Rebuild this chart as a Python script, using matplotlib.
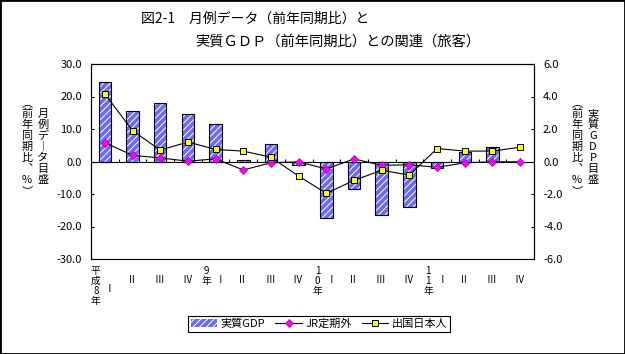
import numpy as np
import matplotlib
matplotlib.use('Agg')
import matplotlib.pyplot as plt
from matplotlib.patches import Patch, Rectangle
from matplotlib.lines import Line2D
from matplotlib.ticker import FormatStrFormatter

plt.rcParams['font.family'] = ['Noto Sans CJK JP', 'DejaVu Sans']
plt.rcParams['axes.unicode_minus'] = False
plt.rcParams['hatch.linewidth'] = 0.7

# data (quarters, H8 I .. H11 IV)
quarters = ['Ⅰ', 'Ⅱ', 'Ⅲ', 'Ⅳ'] * 4
year_labels = {0: '平成8年', 4: '9年', 8: '10年', 12: '11年'}
gdp = [4.9, 3.1, 3.6, 2.95, 2.3, 0.1, 1.05, -0.2,
       -3.5, -1.7, -3.3, -2.8, -0.4, 0.6, 0.9, np.nan]
jr = [5.8, 1.9, 1.1, 0.1, 0.8, -2.6, -0.4, -0.1,
      -2.3, 0.8, -1.2, -1.0, -1.8, -0.4, -0.1, -0.1]
shukkoku = [20.8, 9.5, 3.5, 6.0, 3.7, 3.2, 1.3, -4.5,
            -9.8, -5.8, -2.7, -4.2, 4.0, 3.2, 3.2, 4.4]
series_names = ['実質GDP', 'JR定期外', '出国日本人']

title1 = '図2-1　月例データ（前年同期比）と'
title2 = '実質ＧＤＰ（前年同期比）との関連（旅客）'
left_lab = [['︵', '前', '年', '同', '期', '比', '︑', '%', '︶'],
            ['月', '例', 'デ', '︱', 'タ', '目', '盛']]
right_lab = [['︵', '前', '年', '同', '期', '比', '︑', '%', '︶'],
             ['実', '質', 'G', 'D', 'P', '目', '盛']]

W, H = 625, 354
bar_blue = '#6B6BF5'
hatch = '/////'

fig = plt.figure(figsize=(W / 100, H / 100), dpi=100)
ax = fig.add_axes([91 / W, 1 - 259 / H, (534 - 91) / W, (259 - 64) / H])
ax2 = ax.twinx()
ax.yaxis.tick_right()
ax2.yaxis.tick_left()

x = np.arange(len(gdp))
ax.bar(x, gdp, width=0.45, color=bar_blue, edgecolor='white', hatch=hatch, linewidth=0)
ax.bar(x, gdp, width=0.45, facecolor='none', edgecolor='black', linewidth=0.8)
ax.set_xlim(-0.5, len(gdp) - 0.5)
ax.set_ylim(-6, 6)
ax.set_yticks(np.arange(-6, 7, 2))
ax.yaxis.set_major_formatter(FormatStrFormatter('%.1f'))
ax.spines['bottom'].set_position(('data', 0))
ax.set_xticks(np.arange(0.5, len(gdp) - 1, 1))
ax.tick_params(axis='x', direction='in', length=2.5, width=0.8, labelbottom=False)
ax.tick_params(axis='y', direction='in', length=2.5, width=0.8, pad=6.5, labelsize=8)

ax2.plot(x, jr, color='black', lw=0.8, marker='D', ms=4.2,
         mfc='#FF00FF', mec='#A000A0', mew=0.5)
ax2.plot(x, shukkoku, color='black', lw=0.8, marker='s', ms=5,
         mfc='#FFFF00', mec='black', mew=0.7)
ax2.set_ylim(-30, 30)
ax2.set_yticks(np.arange(-30, 31, 10))
ax2.yaxis.set_major_formatter(FormatStrFormatter('%.1f'))
ax2.tick_params(axis='y', direction='in', length=2.5, width=0.8, pad=6.5, labelsize=8)
for a in (ax, ax2):
    for s in a.spines.values():
        s.set_linewidth(0.8)

# category labels under the frame
xt = ax.get_xaxis_transform()
for i, q in enumerate(quarters):
    if i in year_labels:
        dy = 30 if i == 0 else 21
        ax.annotate(q, xy=(i, 0), xycoords=xt, xytext=(5, -dy), textcoords='offset pixels',
                    ha='center', va='center', fontsize=7, annotation_clip=False)
        for k, c in enumerate(year_labels[i]):
            ax.annotate(c, xy=(i, 0), xycoords=xt, xytext=(-9, -12 - 10 * k),
                        textcoords='offset pixels', ha='center', va='center',
                        fontsize=7, annotation_clip=False)
    else:
        ax.annotate(q, xy=(i, 0), xycoords=xt, xytext=(-1, -21), textcoords='offset pixels',
                    ha='center', va='center', fontsize=7, annotation_clip=False)


def stack(xpx, ypx, chars, pitch=11):
    for k, c in enumerate(chars):
        fig.text(xpx / W, 1 - (ypx + k * pitch) / H, c, ha='center', va='center', fontsize=8)


stack(27, 103, left_lab[0])
stack(43, 114, left_lab[1])
stack(577, 103, right_lab[0])
stack(593, 114, right_lab[1])

fig.text(141 / W, 1 - 19 / H, title1, fontsize=10, ha='left', va='center')
fig.text(195 / W, 1 - 42 / H, title2, fontsize=10.3, ha='left', va='center')

handles = [Patch(facecolor=bar_blue, edgecolor='white', hatch=hatch, lw=0),
           Line2D([], [], color='black', lw=0.8, marker='D', ms=4.2, mfc='#FF00FF', mec='#A000A0', mew=0.5),
           Line2D([], [], color='black', lw=0.8, marker='s', ms=5, mfc='#FFFF00', mec='black', mew=0.7)]
leg = fig.legend(handles, series_names, loc='center', bbox_to_anchor=(319 / W, 1 - 324 / H),
                 ncol=3, frameon=True, fancybox=False, edgecolor='black', framealpha=1,
                 fontsize=8, handlelength=2.4, columnspacing=0.9, handletextpad=0.3,
                 borderpad=0.25, borderaxespad=0)
leg.get_frame().set_linewidth(0.8)

fig.add_artist(Rectangle((0, 0), 1, 1, transform=fig.transFigure, fill=False,
                         edgecolor='black', lw=2))

fig.savefig('out.png', dpi=100)
